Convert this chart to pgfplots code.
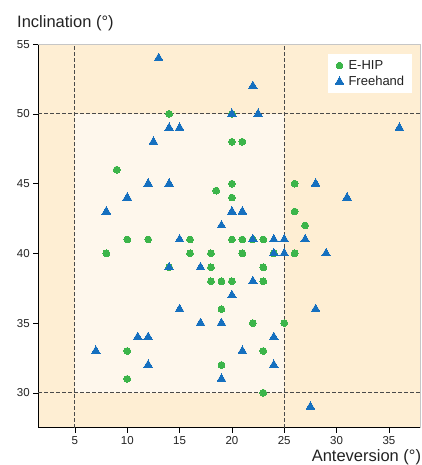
\documentclass[border=0pt]{standalone}
\usepackage{pgfplots}
\pgfplotsset{compat=1.18}
\usepackage{fontspec}
\setmainfont{Liberation Sans}
\definecolor{outerbg}{HTML}{FEEED3}
\definecolor{innerbg}{HTML}{FEF7EC}
\definecolor{ehip}{HTML}{3CB54A}
\definecolor{free}{HTML}{1670BF}
\definecolor{dashc}{HTML}{4A4A4A}
\definecolor{txt}{HTML}{222222}
\begin{document}
\begin{tikzpicture}[x=1pt,y=1pt]
\path[use as bounding box] (0,0) rectangle (422,465);
\begin{axis}[
  at={(38.3pt,37.3pt)}, anchor=south west,
  scale only axis, width=382pt, height=383.5pt,
  xmin=1.5, xmax=38, ymin=27.5, ymax=55,
  axis x line*=bottom, axis y line*=left,
  axis line style={black, line width=0.8pt},
  axis background/.style={fill=outerbg},
  xtick={5,10,...,35}, ytick={30,35,...,55},
  tick align=outside, major tick length=5pt,
  tick style={black, line width=0.6pt},
  /pgf/number format/assume math mode=true,
  tick label style={font=\fontsize{11.5}{13}\selectfont, text=txt},
  xlabel={Anteversion (°)},
  xlabel style={at={(axis description cs:1,0)}, anchor=base east, inner sep=0pt, text=txt,
    font=\fontsize{16.5}{18}\selectfont, yshift=-33.5pt, xshift=1pt},
  ylabel={Inclination (°)},
  ylabel style={rotate=-90, at={(axis description cs:0,1)}, anchor=base west, inner sep=0pt, text=txt,
    font=\fontsize{16.5}{18}\selectfont, xshift=-21.3pt, yshift=16.2pt},
  legend style={at={(axis description cs:0.978,0.974)}, anchor=north east,
    draw=none, fill=white, font=\fontsize{13}{15}\selectfont, text=txt,
    inner xsep=5.5pt, inner ysep=4pt, row sep=1.5pt},
  legend cell align=left,
  legend image code/.code={\path[draw=none,fill=none] (-6pt,0pt) -- (7pt,0pt); \draw[#1, draw=none] plot coordinates {(0pt,0pt)};},
  clip=false,
]
\addplot[fill=innerbg, draw=none, forget plot] coordinates {(5,30) (25,30) (25,50) (5,50)} -- cycle;
\draw[dashc, line width=0.9pt, dash pattern=on 3.5pt off 2.5pt] (axis cs:5,27.5) -- (axis cs:5,55);
\draw[dashc, line width=0.9pt, dash pattern=on 3.5pt off 2.5pt] (axis cs:25,27.5) -- (axis cs:25,55);
\draw[dashc, line width=0.9pt, dash pattern=on 3.5pt off 2.5pt] (axis cs:1.5,30) -- (axis cs:38,30);
\draw[dashc, line width=0.9pt, dash pattern=on 3.5pt off 2.5pt] (axis cs:1.5,50) -- (axis cs:38,50);
\draw[gray!45, line width=0.8pt] (rel axis cs:0,1) -- (rel axis cs:1,1) -- (rel axis cs:1,0);
\addplot[only marks, color=ehip, mark=*, mark size=3.4pt, mark options={draw=ehip, fill=ehip, line width=0pt}] coordinates {
(14,50) (20,50) (20,48) (21,48) (9,46) (20,45) (26,45) (18.5,44.5) (20,44) (26,43) (27,42)
(10,41) (12,41) (16,41) (20,41) (21,41) (22,41) (23,41)
(8,40) (16,40) (18,40) (21,40) (24,40) (26,40)
(14,39) (18,39) (23,39) (18,38) (19,38) (20,38) (23,38)
(19,36) (22,35) (25,35) (10,33) (23,33) (19,32) (10,31) (23,30)
};
\addlegendentry{E-HIP}
\addplot[only marks, color=free, mark=triangle*, mark size=5pt, mark options={draw=free, fill=free, line width=0pt}] coordinates {
(13,54) (22,52) (20,50) (22.5,50) (14,49) (15,49) (36,49) (12.5,48)
(12,45) (14,45) (28,45) (10,44) (31,44) (8,43) (20,43) (21,43) (19,42)
(15,41) (22,41) (24,41) (25,41) (27,41) (24,40) (25,40) (29,40)
(14,39) (17,39) (22,38) (20,37) (15,36) (28,36) (17,35) (19,35)
(11,34) (12,34) (24,34) (7,33) (21,33) (12,32) (24,32) (19,31) (27.5,29)
};
\addlegendentry{Freehand}
\end{axis}
\end{tikzpicture}
\end{document}
